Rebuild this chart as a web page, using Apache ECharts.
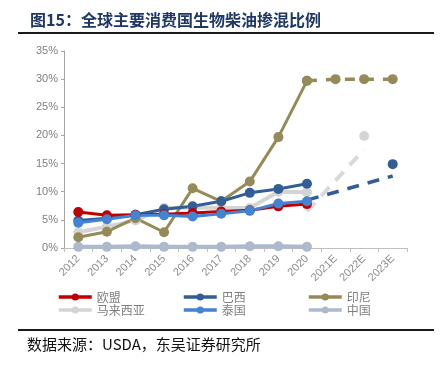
<!DOCTYPE html>
<html><head><meta charset="utf-8">
<script src="https://cdn.jsdelivr.net/npm/echarts@6/dist/echarts.min.js"></script>
<style>html,body{margin:0;padding:0;background:#fff}#c{width:442px;height:370px}</style>
</head><body><div id="c"></div>
<script>
const categories = ['2012','2013','2014','2015','2016','2017','2018','2019','2020','2021E','2022E','2023E'];
const yTicks = [0,5,10,15,20,25,30,35];
const eu        = [6.4,5.8,5.9,6.0,6.2,6.5,6.7,7.4,7.8,null,null,null];
const brazil    = [4.9,5.3,5.9,6.9,7.4,8.3,9.8,10.5,11.4,null,null,null];
const brazilEst = [null,null,null,null,null,null,null,null,null,null,null,14.9];
const brazilTrend = [null,null,null,null,null,null,null,null,8.5,null,null,12.8];
const indonesia = [1.9,2.9,5.3,2.8,10.6,8.3,11.8,19.7,29.7,null,null,null];
const indonesiaEst = [null,null,null,null,null,null,null,null,29.7,30.0,30.0,30.0];
const malaysia  = [2.8,3.8,4.9,7.1,7.2,7.1,7.1,10.0,9.9,null,null,null];
const malaysiaEst = [null,null,null,null,null,null,null,null,null,null,19.9,null];
const malaysiaTrend = [null,null,null,null,null,null,null,null,6.5,null,17.5,null];
const thailand  = [4.5,5.1,5.8,5.8,5.6,6.1,6.6,7.9,8.3,null,null,null];
const china     = [0.2,0.2,0.3,0.2,0.2,0.2,0.3,0.3,0.2,null,null,null];

const C = {eu:'#C00000', br:'#335E95', id:'#958B58', my:'#D4D4D4', th:'#4283D3', cn:'#ADB9CC'};
function solid(name, data, color, lw){
  return {name, type:'line', data, color, symbol:'circle', symbolSize:10,
    lineStyle:{width:lw||3, color}, itemStyle:{color}, z:3};
}
const chart = echarts.init(document.getElementById('c'), null, {renderer:'canvas'});
const legendText = {color:'#7F7F7F', fontSize:12, fontFamily:'"Noto Sans CJK SC", sans-serif'};
function lg(left, data){
  return {left, top:291, orient:'vertical', itemGap:1, itemWidth:33, itemHeight:9,
    data, textStyle:legendText, padding:0, itemStyle:{borderWidth:0}, lineStyle:{width:3.5}};
}
chart.setOption({
  animation:false,
  title:{text:'图15：全球主要消费国生物柴油掺混比例', left:25, top:7,
    textStyle:{color:'#1F3864', fontSize:16, fontWeight:'bold', fontFamily:'"Noto Sans CJK SC", sans-serif'}},
  graphic:[
    {type:'rect', shape:{x:18, y:32, width:416, height:2}, style:{fill:'#1a1a1a'}},
    {type:'rect', shape:{x:18, y:329, width:416, height:2}, style:{fill:'#1a1a1a'}},
    {type:'text', left:27, top:337, style:{text:'数据来源：USDA，东吴证券研究所', fill:'#111', fontSize:15,
      fontFamily:'"Noto Sans CJK SC", sans-serif'}}
  ],
  legend:[lg(57,['欧盟','马来西亚']), lg(182,['巴西','泰国']), lg(307,['印尼','中国'])],
  grid:{left:64, right:35, top:51, bottom:122},
  xAxis:{type:'category', data:categories, boundaryGap:true,
    axisLine:{lineStyle:{color:'#BFBFBF', width:1}},
    axisTick:{show:true, length:4, lineStyle:{color:'#BFBFBF'}},
    axisLabel:{rotate:45, color:'#8C8C8C', fontSize:11, margin:9, interval:0,
      fontFamily:'"Liberation Sans", Arial, sans-serif'}},
  yAxis:{type:'value', min:0, max:35, interval:5,
    axisLine:{show:true, lineStyle:{color:'#A6A6A6'}},
    axisTick:{show:true, length:3, lineStyle:{color:'#A6A6A6'}},
    splitLine:{show:false},
    axisLabel:{color:'#7F7F7F', fontSize:11, margin:6, formatter:v=>v+'%',
      fontFamily:'"Liberation Sans", Arial, sans-serif'}},
  series:[
    solid('中国', china, C.cn, 4),
    solid('马来西亚', malaysia, C.my, 4),
    {name:'马来西亚E', type:'line', data:malaysiaEst, symbol:'circle', symbolSize:10, itemStyle:{color:C.my}, lineStyle:{width:0}},
    {name:'马来西亚T', type:'line', data:malaysiaTrend, connectNulls:true, symbol:'none',
      lineStyle:{width:4, color:'#D9D9D9', type:[12,9]}},
    {name:'巴西T', type:'line', data:brazilTrend, connectNulls:true, symbol:'none',
      lineStyle:{width:3.5, color:C.br, type:[12,9]}},
    solid('印尼', indonesia, C.id),
    {name:'印尼E', type:'line', data:indonesiaEst, symbol:'circle', symbolSize:10, itemStyle:{color:C.id},
      lineStyle:{width:3.5, color:C.id, type:[10,9]}},
    solid('巴西', brazil, C.br),
    {name:'巴西E', type:'line', data:brazilEst, symbol:'circle', symbolSize:10, itemStyle:{color:C.br}, lineStyle:{width:0}},
    solid('欧盟', eu, C.eu),
    solid('泰国', thailand, C.th)
  ]
});
</script></body></html>
